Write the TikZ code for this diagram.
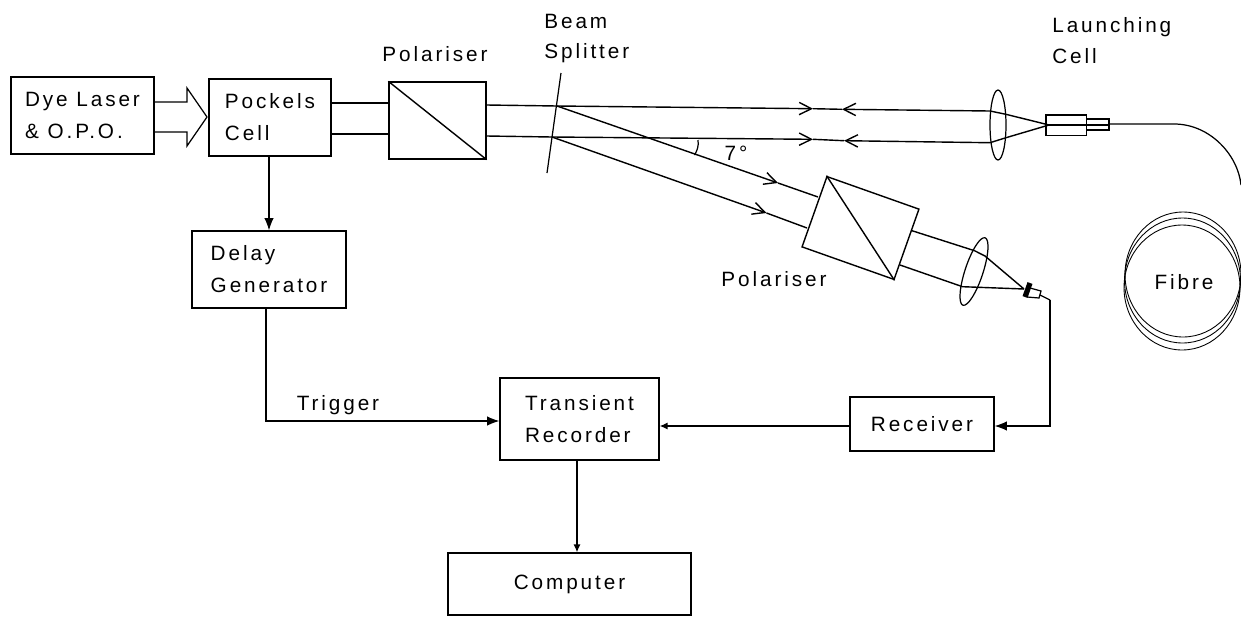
\documentclass[tikz,border=0pt]{standalone}
\usepackage{fontspec}
\setmainfont[LetterSpace=14]{Liberation Sans}
\usetikzlibrary{arrows.meta,shapes.geometric}
\tikzset{
    unit/.style={draw,line width=0.8pt,inner sep=0pt,align=left,font=\fontsize{11.8}{18.2}\selectfont},
    lab/.style={inner sep=0pt,align=left,font=\fontsize{11.8}{17.6}\selectfont},
    wire/.style={line width=0.7pt},
    wirearrow/.style={line width=0.7pt,-{Latex[length=7pt,width=5.5pt]}},
    smallarrow/.style={line width=0.7pt,-{Latex[length=4.5pt,width=4pt]}},
    beam/.style={line width=0.8pt},
    beamarrow/.style={line width=0.8pt,-{Straight Barb[length=7pt,width=7pt]}},
    lens/.style={draw,ellipse,line width=0.7pt,inner sep=0pt}
}
\begin{document}
\begin{tikzpicture}[x=0.02cm,y=-0.02cm]
    \useasboundingbox (0,0) rectangle (1241,616);
    % boxes
    \node (laser) [unit,minimum width=2.86cm,minimum height=1.54cm] at (82.5,115.5) {Dye Laser\\\& O.P.O.};
    \node (pock) [unit,minimum width=2.44cm,minimum height=1.54cm] at (270,117.5) {Pockels\\Cell};
    \node (delay) [unit,minimum width=3.08cm,minimum height=1.54cm] at (269,269.5) {Delay\\Generator};
    \node (trans) [unit,minimum width=3.18cm,minimum height=1.64cm] at (579.5,419) {Transient\\Recorder};
    \node (recv) [unit,minimum width=2.88cm,minimum height=1.08cm] at (922,424) {Receiver};
    \node (comp) [unit,minimum width=4.86cm,minimum height=1.24cm] at (569.5,584) {Computer};
    \node (pola) [unit,minimum width=1.94cm,minimum height=1.54cm] at (437.5,120.5) {};
    \node (polb) [unit,minimum width=1.952cm,minimum height=1.492cm,rotate=-19.5] at (860.5,228) {};
    \node (lena) [lens,minimum width=0.32cm,minimum height=1.4cm] at (998,125) {};
    \node (lenb) [lens,minimum width=1.42cm,minimum height=0.36cm,rotate=71.8] at (974,271.5) {};
    % lecters
    \node (labpola) [lab] at (435,54) {Polariser};
    \node (labpolb) [lab] at (774,279) {Polariser};
    \node (labsplit) [lab,anchor=west] at (544,38.5) {Beam\\Splitter};
    \node (labcell) [lab,anchor=west] at (1052,40.5) {Launching\\Cell};
    \node (labfibre) [lab] at (1184,282) {Fibre};
    \node (labtrig) [lab] at (338,405) {Trigger};
    \node (labang) [lab] at (736,153) {7°};
    % points on the beams
    \coordinate (sa) at (557,106);
    \coordinate (sb) at (552,137);
    \coordinate (ta) at (813,108.7);
    \coordinate (tb) at (813,139.3);
    \coordinate (ra) at (842,109.3);
    \coordinate (rb) at (844,140.7);
    \coordinate (fa) at (990,111);
    \coordinate (fb) at (990,142.7);
    \coordinate (fc) at (1006,114.3);
    \coordinate (fd) at (1006,137.7);
    \coordinate (tip) at (1049,125);
    \coordinate (da) at (778,183);
    \coordinate (db) at (766.5,213);
    \coordinate (ea) at (818,197);
    \coordinate (eb) at (807,228);
    \coordinate (ga) at (912,230.7);
    \coordinate (gb) at (900,265);
    \coordinate (ha) at (974.5,250.7);
    \coordinate (hb) at (962.5,286.7);
    \coordinate (hc) at (985,256);
    \coordinate (det) at (1024,289);
    % input arrow
    \coordinate (arrt) at (187,102);
    \coordinate (arrh) at (207,117);
    \coordinate (arrb) at (187,132);
    \draw [wire] (laser.east |- arrt) -- (arrt) -- (187,88) -- (arrh) -- (187,146) -- (arrb) -- (laser.east |- arrb);
    % beams
    \draw [beam] (pock.east |- 0,103) -- (pola.west |- 0,103);
    \draw [beam] (pock.east |- 0,134) -- (pola.west |- 0,134);
    \draw [beam] (pola.north west) -- (pola.south east);
    \draw [wire] (561,73) -- (547,173);
    \draw [beam] (pola.east |- 0,105) -- (sa);
    \draw [beam] (pola.east |- 0,136) -- (sb);
    \draw [beamarrow] (sa) -- (ta);
    \draw [beamarrow] (sb) -- (tb);
    \draw [beam] (ta) -- (ra);
    \draw [beam] (tb) -- (rb);
    \draw [beamarrow] (fa) -- (ra);
    \draw [beamarrow] (fb) -- (rb);
    \draw [beam] (fa) -- (fc) -- (tip);
    \draw [beam] (fb) -- (fd) -- (tip);
    \draw [beamarrow] (sa) -- (da);
    \draw [beamarrow] (sb) -- (db);
    \draw [beam] (da) -- (ea);
    \draw [beam] (db) -- (eb);
    \draw [beam] (polb.north west) -- (polb.south east);
    \draw [beam] (ga) -- (ha) -- (hc) -- (det);
    \draw [beam] (gb) -- (hb) -- (det);
    \draw [wire] (698,140) .. controls (699,146) and (697,151) .. (694.5,155);
    % launching cell and fibre
    \draw [wire] (1046,115) rectangle (1086.5,135.7);
    \draw [wire] (1086.5,119) rectangle (1109,130);
    \draw [wire] (tip) -- (1109,125);
    \draw [wire] (1109,124) -- (1174,124) .. controls (1210,124) and (1238,155) .. (1241,185);
    \foreach \cx/\cy in {1183/274.5,1182.5/280.5,1182/287.5}
        \draw [line width=0.5pt] (\cx,\cy) ellipse [x radius=1.16cm,y radius=1.25cm];
    % detector
    \draw [line width=3pt] (1030,283) -- (1025,297);
    \draw [wire] (1030,288) -- (1041,291) -- (1039,298) -- (1027,297);
    \draw [wire] (1040,295) -- (1050,300);
    % signals
    \draw [wirearrow] (pock.south -| 269,0) -- (delay.north -| 269,0);
    \draw [wirearrow] (delay.south -| 266,0) -- (266,421) -- (trans.west |- 0,421);
    \draw [smallarrow] (recv.west |- 0,426) -- (trans.east |- 0,426);
    \draw [wirearrow] (1050,300) -- (1050,426) -- (recv.east |- 0,426);
    \draw [smallarrow] (trans.south -| 577,0) -- (comp.north -| 577,0);
\end{tikzpicture}
\end{document}
